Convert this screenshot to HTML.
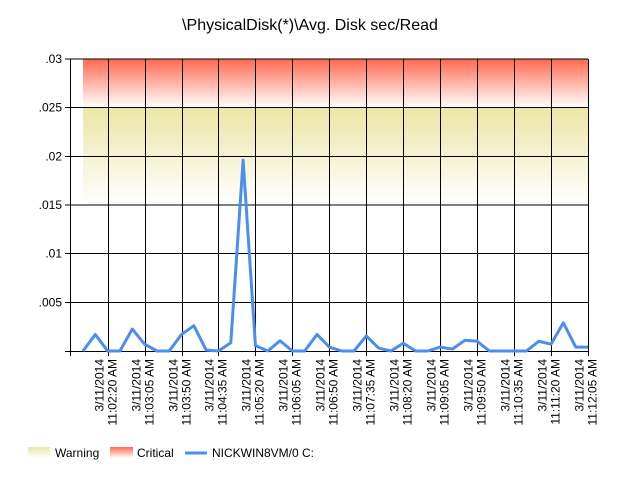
<!DOCTYPE html>
<html><head><meta charset="utf-8"><style>
body{margin:0;background:#fff;font-family:"Liberation Sans",sans-serif}
svg text{font-family:"Liberation Sans",sans-serif}
</style></head><body>
<svg width="620" height="480">
<defs>
<linearGradient id="crit" x1="0" y1="0" x2="0" y2="1"><stop offset="0" stop-color="#ff6a50"/><stop offset="1" stop-color="#ffffff"/></linearGradient>
<linearGradient id="warn" x1="0" y1="0" x2="0" y2="1"><stop offset="0" stop-color="#ebe6a6"/><stop offset="1" stop-color="#ffffff"/></linearGradient>
</defs>
<text x="310" y="30" text-anchor="middle" font-size="16" fill="#000">\PhysicalDisk(*)\Avg. Disk sec/Read</text>
<g id="plot"></g>
<g>
<rect x="28" y="447" width="22" height="11" fill="url(#warn)"/>
<text x="55" y="457" font-size="12" fill="#000">Warning</text>
<rect x="110" y="447" width="23" height="11" fill="url(#crit)"/>
<text x="137" y="457" font-size="12" fill="#000">Critical</text>
<line x1="185" y1="453" x2="207" y2="453" stroke="#4a8ef0" stroke-width="3"/>
<text x="212" y="457" font-size="12" fill="#000">NICKWIN8VM/0 C:</text>
</g>
</svg>
<script>
const values=[0,.0017,0,0,.00225,.0007,0,0,.0017,.0026,.0001,0,.00085,.0196,.00055,0,.00105,0,0,.0017,.0004,0,0,.00155,.0003,0,.0008,0,0,.0004,.0002,.0011,.001,0,0,0,0,.001,.0007,.0029,.0004,.0004];
const yTicks=[0.005,0.01,0.015,0.02,0.025,0.03];
const yTickLabels=[".005",".01",".015",".02",".025",".03"];
const xLabelIdx=[2,5,8,11,14,17,20,23,26,29,32,35,38,41];
const xLabelTimes=["11:02:20 AM","11:03:05 AM","11:03:50 AM","11:04:35 AM","11:05:20 AM","11:06:05 AM","11:06:50 AM","11:07:35 AM","11:08:20 AM","11:09:05 AM","11:09:50 AM","11:10:35 AM","11:11:20 AM","11:12:05 AM"];
const xDate="3/11/2014";
const warnRange=[0.015,0.025], critRange=[0.025,0.03];
const X0=83,X1=588,Y0=351,Y1=59,YMAX=0.03;
const x=i=>X0+(X1-X0)*i/(values.length-1);
const y=v=>Y0-(Y0-Y1)*v/YMAX;
const NS="http://www.w3.org/2000/svg";
const g=document.getElementById('plot');
function mk(t,a){const e=document.createElementNS(NS,t);for(const k in a)e.setAttribute(k,a[k]);g.appendChild(e);return e;}
let e;
e=mk('rect',{x:X0,y:y(critRange[1]),width:X1-X0,height:y(critRange[0])-y(critRange[1]),fill:'url(#crit)'});


e=mk('rect',{x:X0,y:y(warnRange[1]),width:X1-X0,height:y(warnRange[0])-y(warnRange[1]),fill:'url(#warn)'});


yTicks.forEach((t,k)=>{
 e=mk('line',{x1:65,x2:X1,y1:y(t),y2:y(t),stroke:'#000','stroke-width':1,'shape-rendering':'crispEdges'});
 
 
 e=mk('text',{x:62,y:y(t)+4,'text-anchor':'end','font-size':12,fill:'#000'});e.textContent=yTickLabels[k];
 
 
});
xLabelIdx.forEach((i,k)=>{
 const xx=Math.round(x(i))+0.5;
 e=mk('line',{x1:xx,x2:xx,y1:Y1,y2:Y0+5,stroke:'#000','stroke-width':1});
 
 
 e=mk('text',{transform:`translate(${xx+4},359) rotate(-90)`,'text-anchor':'end','font-size':12,fill:'#000'});
 
 
 const t1=document.createElementNS(NS,'tspan');t1.setAttribute('x',0);t1.setAttribute('y',-9);t1.textContent=xDate;e.appendChild(t1);
 const t2=document.createElementNS(NS,'tspan');t2.setAttribute('x',0);t2.setAttribute('y',4);t2.textContent=xLabelTimes[k];e.appendChild(t2);
});
e=mk('line',{x1:70.5,x2:70.5,y1:Y1,y2:Y0+5,stroke:'#000'});


e=mk('line',{x1:65,x2:X1,y1:Y0+.5,y2:Y0+.5,stroke:'#000'});


e=mk('polyline',{points:values.map((v,i)=>x(i)+','+y(v)).join(' '),fill:'none',stroke:'#4a8ef0','stroke-width':3,'stroke-linejoin':'round'});


</script>
</body></html>
